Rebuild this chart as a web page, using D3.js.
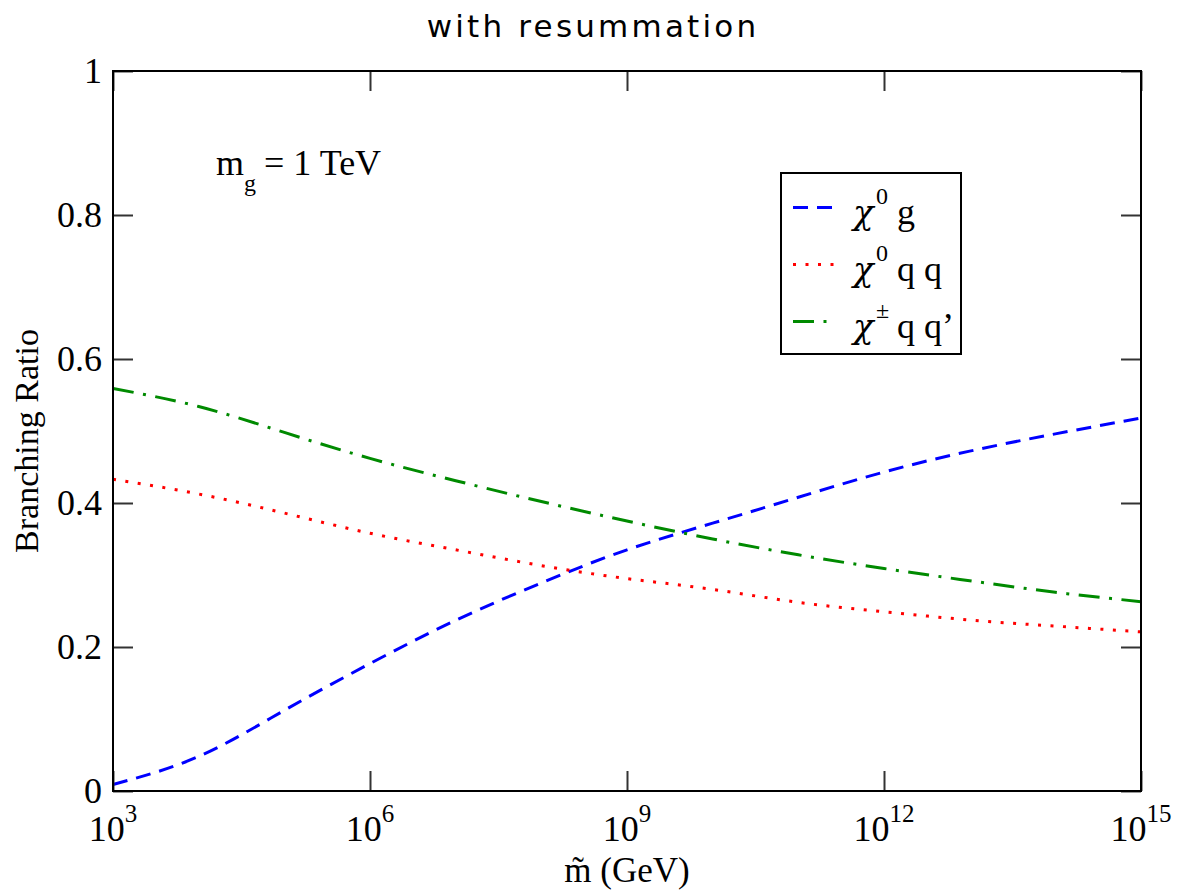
<!DOCTYPE html>
<html>
<head>
<meta charset="utf-8">
<script src="https://cdn.jsdelivr.net/npm/d3@7"></script>
<style>
  html, body { margin: 0; padding: 0; background: #fff; }
  svg { display: block; }
</style>
</head>
<body>
<svg id="chart" width="1178" height="890"></svg>
<script>
// ---- data ----
const masses = [1e3, 1e4, 1e5, 1e6, 1e7, 1e8, 1e9, 1e10, 1e11, 1e12, 1e13, 1e14, 1e15];
const brChi0g   = [0.009, 0.048, 0.112, 0.177, 0.237, 0.289, 0.335, 0.372, 0.408, 0.443, 0.472, 0.496, 0.518];
const brChi0qq  = [0.433, 0.4125, 0.386, 0.358, 0.335, 0.313, 0.295, 0.280, 0.262, 0.249, 0.2375, 0.229, 0.221];
const brChipmqq = [0.559, 0.534, 0.498, 0.462, 0.431, 0.402, 0.375, 0.350, 0.328, 0.309, 0.292, 0.276, 0.263];
const xTickExps = [3, 6, 9, 12, 15];
const yTicks = [0, 0.2, 0.4, 0.6, 0.8, 1];
const yTickLabels = ["0", "0.2", "0.4", "0.6", "0.8", "1"];
const seriesNames = ["χ⁰ g", "χ⁰ q q", "χ± q q’"];

const series = [
  {main: "χ", sup: "0", rest: "g",     values: brChi0g,   color: "#0000ff", dash: "15,9"},
  {main: "χ", sup: "0", rest: "q q",   values: brChi0qq,  color: "#ff0000", dash: "3,9.5"},
  {main: "χ", sup: "±", rest: "q q’",  values: brChipmqq, color: "#008a00", dash: "21,9.5,3,9.5"}
];

const svg = d3.select("#chart");
const L = 113, R = 1141, T = 71, B = 791;
const x = d3.scaleLog().domain([1e3, 1e15]).range([L, R]);
const y = d3.scaleLinear().domain([0, 1]).range([B, T]);
const serif = "'Liberation Serif', 'Times New Roman', serif";

// title
svg.append("text")
  .attr("x", 593).attr("y", 37)
  .attr("text-anchor", "middle")
  .attr("font-family", "'DejaVu Sans', sans-serif")
  .attr("font-size", 31)
  .attr("letter-spacing", "3.2px")
  .text("with resummation");

// curves
const line = d3.line()
  .x((d, i) => x(masses[i]))
  .y(d => y(d))
  .curve(d3.curveNatural);

const gLines = svg.append("g");
series.forEach(s => {
  gLines.append("path")
    .datum(s.values)
    .attr("d", line)
    .attr("fill", "none")
    .attr("stroke", s.color)
    .attr("stroke-width", 3)
    .attr("stroke-dasharray", s.dash);
});

// axes ticks (inward) on all four sides
const tickColor = "#333";
function styleAxis(g) {
  g.select(".domain").remove();
  g.selectAll(".tick line").attr("stroke", tickColor).attr("stroke-width", 2);
  g.selectAll(".tick text").remove();
}
const xTickVals = xTickExps.map(e => Math.pow(10, e));
svg.append("g").attr("transform", `translate(0,${B})`)
  .call(d3.axisBottom(x).tickValues(xTickVals).tickSize(-20).tickFormat(""))
  .call(styleAxis);
svg.append("g").attr("transform", `translate(0,${T})`)
  .call(d3.axisTop(x).tickValues(xTickVals).tickSize(-20).tickFormat(""))
  .call(styleAxis);
svg.append("g").attr("transform", `translate(${L},0)`)
  .call(d3.axisLeft(y).tickValues(yTicks).tickSize(-20).tickFormat(""))
  .call(styleAxis);
svg.append("g").attr("transform", `translate(${R},0)`)
  .call(d3.axisRight(y).tickValues(yTicks).tickSize(-20).tickFormat(""))
  .call(styleAxis);

// frame
svg.append("rect")
  .attr("x", L).attr("y", T).attr("width", R - L).attr("height", B - T)
  .attr("fill", "none").attr("stroke", "#000").attr("stroke-width", 2);

// x tick labels 10^n
xTickExps.forEach(e => {
  const t = svg.append("text")
    .attr("x", x(Math.pow(10, e))).attr("y", 841)
    .attr("text-anchor", "middle")
    .attr("font-family", serif).attr("font-size", 36);
  t.append("tspan").text("10");
  t.append("tspan").attr("dy", -19).attr("font-size", 25).text(String(e));
});

// y tick labels
yTicks.forEach((v, i) => {
  svg.append("text")
    .attr("x", 102).attr("y", y(v) + 12)
    .attr("text-anchor", "end")
    .attr("font-family", serif).attr("font-size", 36)
    .text(yTickLabels[i]);
});

// axis titles
svg.append("text")
  .attr("transform", "translate(38,441) rotate(-90)")
  .attr("text-anchor", "middle")
  .attr("font-family", serif).attr("font-size", 34)
  .text("Branching Ratio");

svg.append("text")
  .attr("x", 627).attr("y", 882)
  .attr("text-anchor", "middle")
  .attr("font-family", serif).attr("font-size", 35)
  .text("m\u0303 (GeV)");

// annotation m_g = 1 TeV
const ann = svg.append("text")
  .attr("x", 216).attr("y", 175)
  .attr("font-family", serif).attr("font-size", 36);
ann.append("tspan").text("m");
ann.append("tspan").attr("dy", 16).attr("font-size", 24).text("g");
ann.append("tspan").attr("dy", -16).attr("x", 264).text("= 1 TeV");

// legend
svg.append("rect")
  .attr("x", 781).attr("y", 173).attr("width", 180).attr("height", 181)
  .attr("fill", "#fff").attr("stroke", "#000").attr("stroke-width", 2);
const rowY = [207.5, 264.5, 321.5];
series.forEach((s, i) => {
  svg.append("line")
    .attr("x1", 793).attr("x2", 834)
    .attr("y1", rowY[i]).attr("y2", rowY[i])
    .attr("stroke", s.color).attr("stroke-width", 3)
    .attr("stroke-dasharray", s.dash);
  const t = svg.append("text")
    .attr("x", 853).attr("y", rowY[i] + 16)
    .attr("font-family", serif).attr("font-size", 36)
    .attr("aria-label", seriesNames[i]);
  t.append("tspan").attr("font-family", "'DejaVu Serif', serif").attr("font-size", 34).attr("font-style", "italic").text(s.main);
  t.append("tspan").attr("x", 876).attr("dy", -20).attr("font-size", 24).text(s.sup);
  t.append("tspan").attr("x", 897).attr("dy", 20).text(s.rest);
});
</script>
</body>
</html>
